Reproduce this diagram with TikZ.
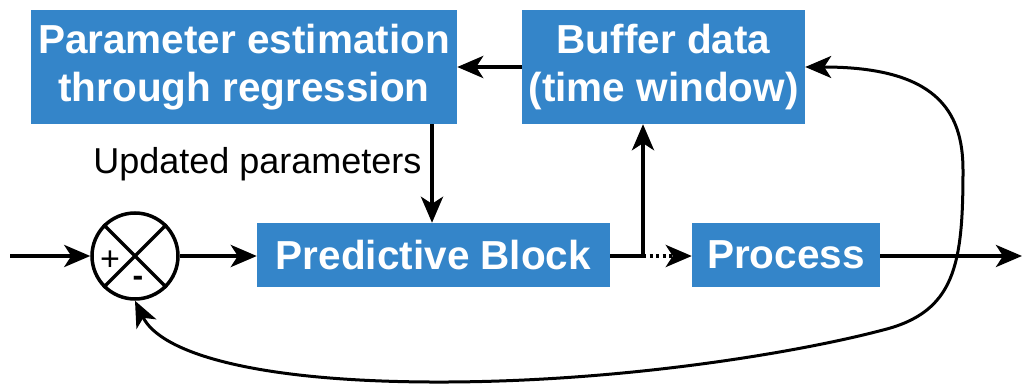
\documentclass[tikz,border=0pt]{standalone}
\usepackage{fontspec}
\setmainfont{Liberation Sans}
\usetikzlibrary{arrows.meta}
\definecolor{blockblue}{RGB}{52,133,201}
\tikzset{
  >={Stealth[length=26pt,width=22pt,inset=7pt]},
  block/.style={rectangle,fill=blockblue,text=white,align=center,inner sep=0pt,
    font=\fontsize{40.5}{48}\selectfont\bfseries},
  flow/.style={line width=4pt,->}
}

\begin{document}
\begin{tikzpicture}[x=1pt,y=-1pt]
    \useasboundingbox (0,0) rectangle (1022,385);

    % Draw the blocks
    \node[block,minimum width=426pt,minimum height=114pt] (param) at (244,67) {Parameter estimation\\through regression};
    \node[block,minimum width=283pt,minimum height=114pt] (buffer) at (663.5,67) {Buffer data\\(time window)};
    \node[block,minimum width=353pt,minimum height=64pt] (pred) at (433.5,255) {Predictive Block};
    \node[block,minimum width=188pt,minimum height=64pt] (proc) at (786,255) {Process};

    % Draw the summing junction
    \node[circle,draw,line width=3.5pt,minimum size=86pt,inner sep=0pt] (sum) at (135,256) {};
    \draw[line width=3.5pt] (sum.north west) -- (sum.south east) (sum.north east) -- (sum.south west);
    \node[font=\fontsize{34}{34}\selectfont] (plus) at (110,261) {+};
    \node[font=\fontsize{32}{32}\selectfont\bfseries] (minus) at (138,281) {-};

    % Signal path
    \coordinate (in) at (10,256);
    \coordinate (out) at (1022,256);
    \coordinate (split) at (643,256);
    \draw[flow] (in) -- (sum.west);
    \draw[flow] (sum.east) -- (pred.west |- sum.east);
    \draw[flow] (pred.east |- split) -- (split) -- (split |- buffer.south);
    \draw[flow,dash pattern=on 3pt off 3.5pt] (split) -- (proc.west |- split);
    \draw[flow] (proc.east |- out) -- (out);

    % Estimation loop
    \draw[flow] (buffer.west) -- (param.east);
    \draw[flow] (param.south -| 432,0) -- (pred.north -| 432,0);
    \node[font=\fontsize{36}{36}\selectfont,anchor=base east] (upd) at (425,173) {Updated parameters};

    % Feedback curve
    \draw[line width=3pt,<->]
      (buffer.east) .. controls (935,67) and (963,110) .. (963,170)
      .. controls (963,265) and (955,312) .. (883,330)
      .. controls (800,352) and (620,383) .. (430,382)
      .. controls (250,381) and (160,352) .. (sum.south);
\end{tikzpicture}
\end{document}
